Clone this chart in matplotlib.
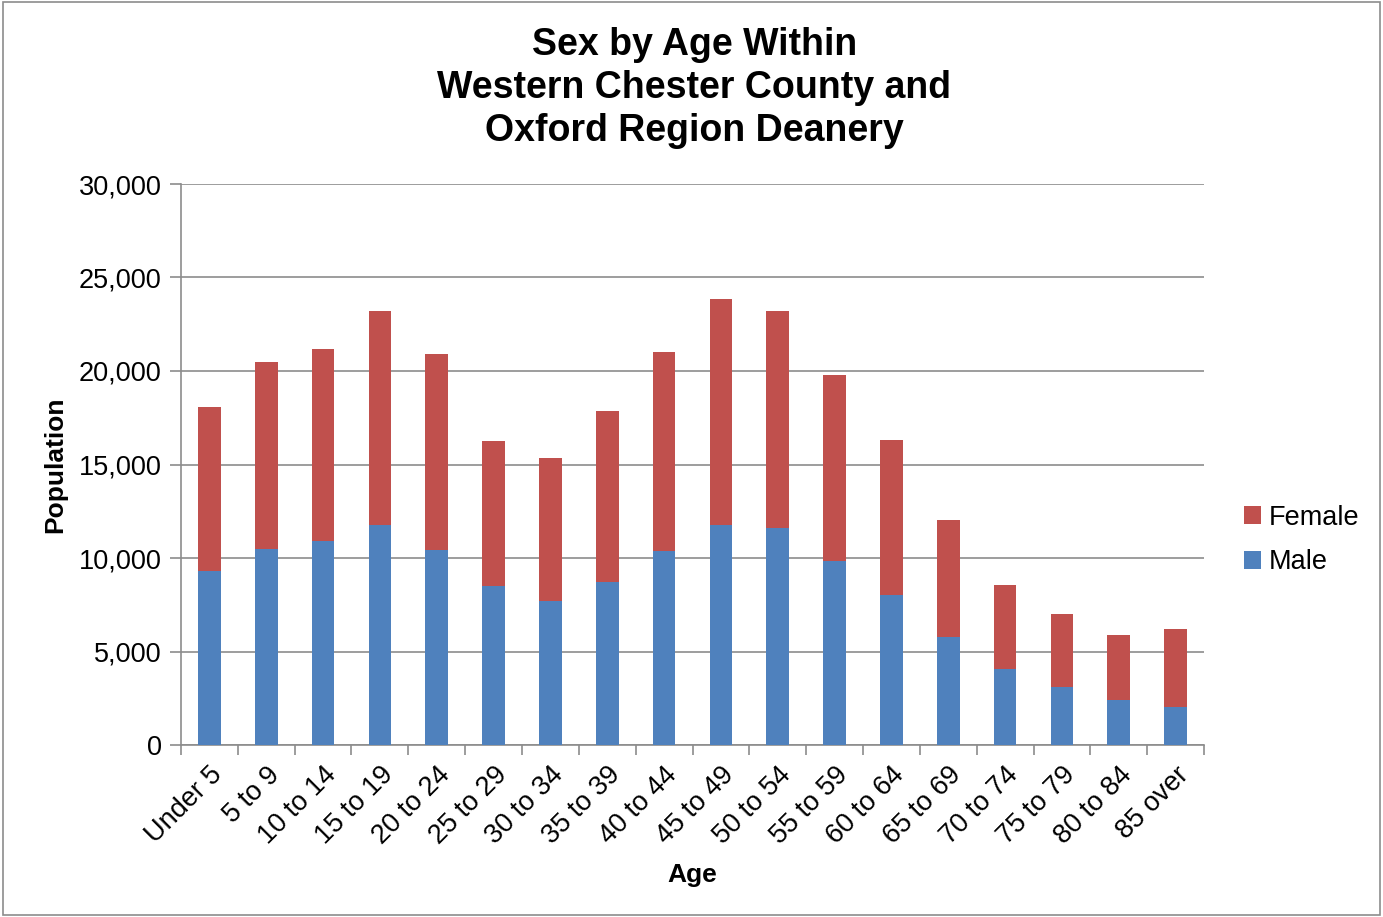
import numpy as np
import matplotlib
matplotlib.use("Agg")
import matplotlib.pyplot as plt
from matplotlib.patches import Rectangle
from matplotlib.ticker import FuncFormatter

ages = ["Under 5", "5 to 9", "10 to 14", "15 to 19", "20 to 24", "25 to 29",
        "30 to 34", "35 to 39", "40 to 44", "45 to 49", "50 to 54", "55 to 59",
        "60 to 64", "65 to 69", "70 to 74", "75 to 79", "80 to 84", "85 over"]
male = [9300, 10480, 10910, 11760, 10430, 8500, 7700, 8720, 10370, 11760,
        11600, 9840, 8020, 5780, 4060, 3100, 2410, 2030]
total = [18070, 20480, 21180, 23210, 20910, 16260, 15350, 17860, 21020, 23850,
         23210, 19790, 16310, 12030, 8560, 7010, 5880, 6200]
female = [t - m for t, m in zip(total, male)]

BLUE = "#4F81BD"
RED = "#C0504D"
GRID = "#8C8C8C"

plt.rcParams.update({"font.family": ["Liberation Sans", "DejaVu Sans"]})

fig = plt.figure(figsize=(13.83, 9.17), dpi=100)
ax = fig.add_axes([181 / 1383, 1 - 745 / 917, (1204 - 181) / 1383, (745 - 184) / 917])

x = np.arange(len(ages))
ax.bar(x, male, width=0.4, color=BLUE, label="Male", zorder=3)
ax.bar(x, female, width=0.4, bottom=male, color=RED, label="Female", zorder=3)

ax.set_xlim(-0.5, len(ages) - 0.5)
ax.set_ylim(0, 30000)
ax.set_yticks(np.arange(0, 30001, 5000))
ax.yaxis.set_major_formatter(FuncFormatter(lambda v, p: f"{int(v):,}"))
ax.grid(axis="y", color=GRID, linewidth=1.2, zorder=0)

# ticks sit between the categories, labels at the bar centres
ax.set_xticks(np.arange(-0.5, len(ages), 1.0))
ax.set_xticklabels([])
ax.set_xticks(x, minor=True)
ax.set_xticklabels(ages, minor=True, rotation=45, ha="right", va="top",
                   rotation_mode="anchor", fontsize=19.5)
ax.tick_params(axis="x", which="minor", length=0, pad=12)
ax.tick_params(axis="x", which="major", length=7, color=GRID, width=1.2)
ax.tick_params(axis="y", length=8, color=GRID, width=1.2, labelsize=19.5, pad=6)

for s in ["top", "right"]:
    ax.spines[s].set_visible(False)
for s in ["left", "bottom"]:
    ax.spines[s].set_color(GRID)
    ax.spines[s].set_linewidth(1.2)

ax.set_xlabel("Age", fontsize=19, fontweight="bold", labelpad=10)
ax.set_ylabel("Population", fontsize=19, fontweight="bold", labelpad=8)

fig.text(0.502, 1 - 88 / 917, "Sex by Age Within\nWestern Chester County and\nOxford Region Deanery",
         ha="center", va="center", fontsize=27, fontweight="bold", linespacing=1.24)

handles, labels = ax.get_legend_handles_labels()
fig.legend(handles[::-1], labels[::-1], loc="center left",
           bbox_to_anchor=(1220 / 1383, 1 - 540 / 917), frameon=False,
           fontsize=19.5, handlelength=0.6, handleheight=0.6, handletextpad=0.3,
           labelspacing=0.7)

fig.patches.append(Rectangle((0.002, 0.002), 0.996, 0.996, transform=fig.transFigure,
                             fill=False, edgecolor="#8C8C8C", linewidth=1.2))

fig.savefig("out.png", dpi=100)
